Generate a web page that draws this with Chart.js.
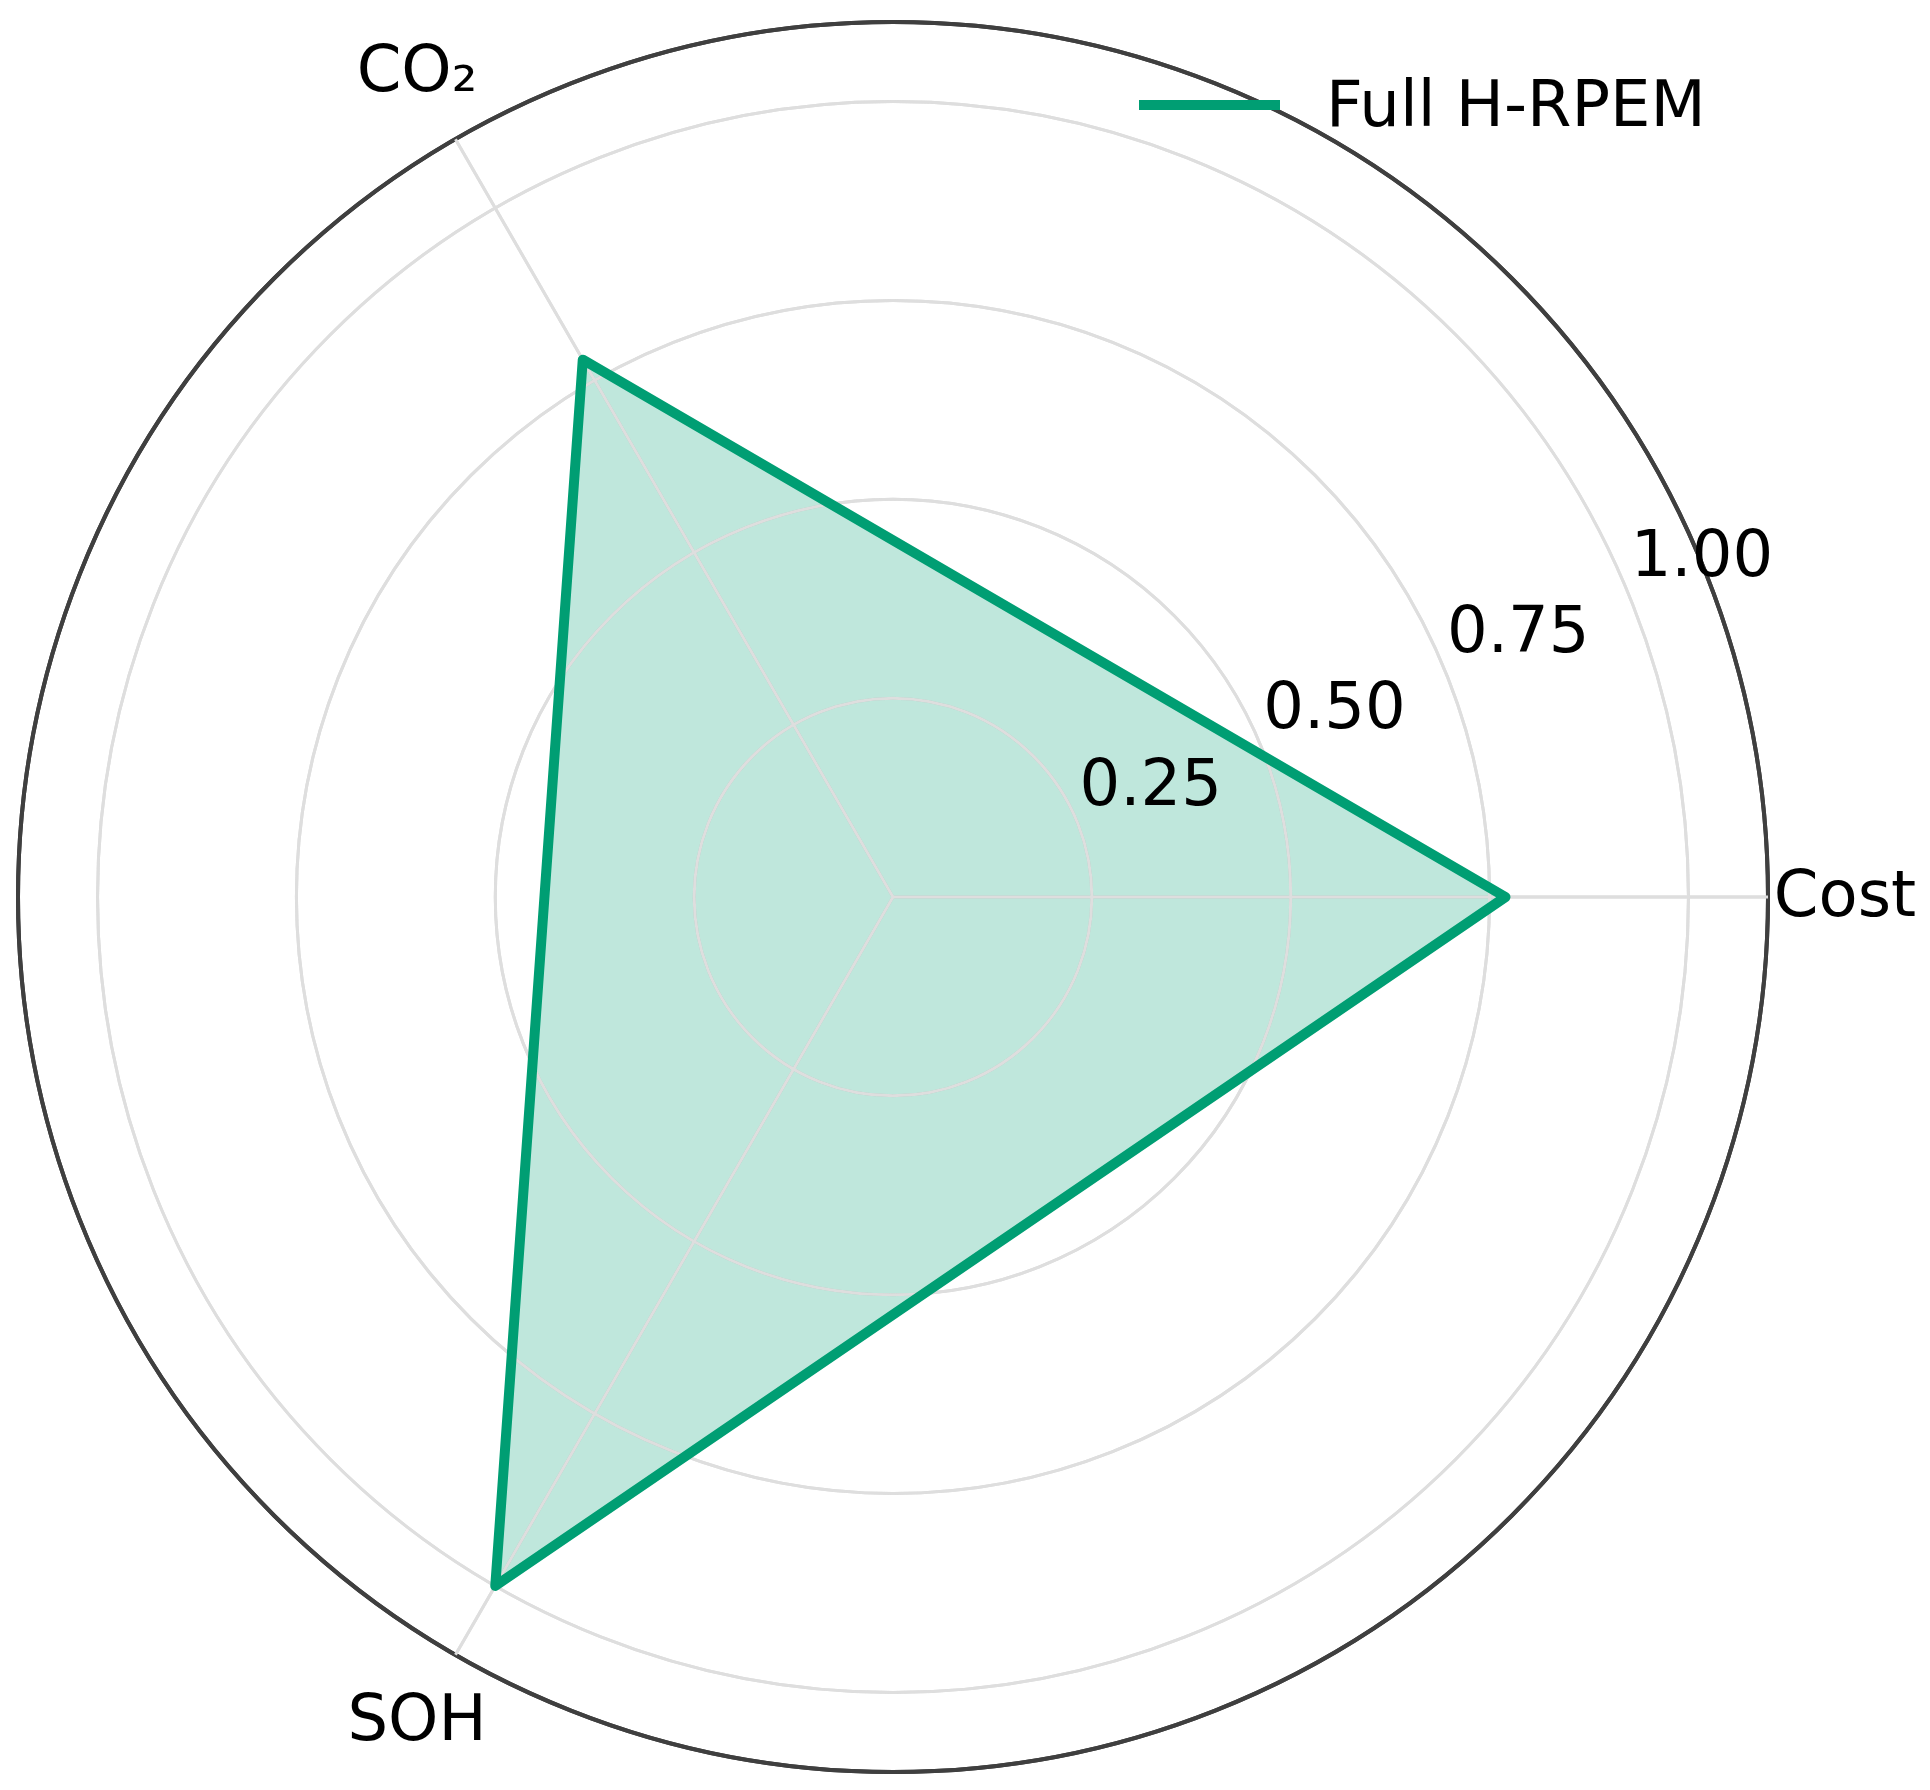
<!DOCTYPE html>
<html>
<head>
<meta charset="utf-8">
<script src="https://cdn.jsdelivr.net/npm/chart.js@4.4.1/dist/chart.umd.min.js"></script>
<style>
  html, body { margin: 0; padding: 0; background: #fff; }
  canvas { display: block; }
</style>
</head>
<body>
<canvas id="radarChart" width="1930" height="1790"></canvas>
<script>
// categories in the order Chart.js walks them (clockwise from the right)
const categories = ['Cost', 'SOH', 'CO₂'];
const scores = [0.77, 1.0, 0.78];
const seriesName = 'Full H-RPEM';
const tickValues = [0.25, 0.5, 0.75, 1.0];
const tickLabels = ['0.25', '0.50', '0.75', '1.00'];
const rMax = 1.1;

const green = '#009E73';
const font = '64px "DejaVu Sans"';

// tick labels, category labels and legend, placed like matplotlib does
const overlay = {
    id: 'overlay',
    // grid goes over the fill but under the outline (dataset 1 = fill, drawn first)
    afterDatasetDraw(chart, args) {
        if (args.index === 1) chart.scales.r.drawGrid();
    },
    afterDraw(chart) {
        const ctx = chart.ctx;
        const r = chart.scales.r;
        ctx.save();
        ctx.font = font;
        ctx.fillStyle = '#000';
        ctx.textAlign = 'center';
        ctx.textBaseline = 'middle';

        // radial tick labels along 22.5 deg
        const a = 22.5 * Math.PI / 180;
        tickValues.forEach((v, i) => {
            const d = r.getDistanceFromCenterForValue(v);
            ctx.fillText(tickLabels[i], r.xCenter + d * Math.cos(a) + 74, r.yCenter - d * Math.sin(a) - 33);
        });

        // category labels outside the outer circle
        categories.forEach((c, i) => {
            const p = r.getPointPosition(i, r.drawingArea + 77);
            ctx.fillText(c, p.x, p.y + 2);
        });

        // legend
        const ds = chart.data.datasets[0];
        ctx.strokeStyle = ds.borderColor;
        ctx.lineWidth = ds.borderWidth;
        ctx.beginPath();
        ctx.moveTo(1139, 105);
        ctx.lineTo(1280, 105);
        ctx.stroke();
        ctx.textAlign = 'left';
        ctx.fillText(ds.label, 1326, 109);
        ctx.restore();
    }
};

const radarCtx = document.getElementById('radarChart').getContext('2d');
const radarChart = new Chart(radarCtx, {
    type: 'radar',
    data: {
        labels: categories,
        datasets: [{
            label: seriesName,
            data: scores,
            borderColor: green,
            borderWidth: 10,
            borderJoinStyle: 'round',
            fill: false,
            pointRadius: 0,
            pointHoverRadius: 0
        }, {
            label: seriesName + ' area',
            data: scores,
            backgroundColor: 'rgba(0, 158, 115, 0.25)',
            borderWidth: 0,
            fill: true,
            pointRadius: 0,
            pointHoverRadius: 0
        }]
    },
    options: {
        responsive: false,
        animation: false,
        layout: {
            padding: { left: 18, right: 162, top: 22, bottom: 18 }
        },
        plugins: {
            legend: { display: false },
            tooltip: { enabled: false }
        },
        scales: {
            r: {
                min: 0,
                max: rMax,
                startAngle: 90,
                afterBuildTicks: (scale) => {
                    scale.ticks = [0, ...tickValues, rMax].map(v => ({ value: v }));
                },
                ticks: { display: false },
                pointLabels: { display: false },
                grid: {
                    circular: true,
                    color: (c) => (c.tick && c.tick.value === rMax) ? '#3f3f3f' : '#dedede',
                    lineWidth: (c) => (c.tick && c.tick.value === rMax) ? 4 : 3
                },
                angleLines: {
                    color: '#dedede',
                    lineWidth: 3
                }
            }
        }
    },
    plugins: [overlay]
});
</script>
</body>
</html>
